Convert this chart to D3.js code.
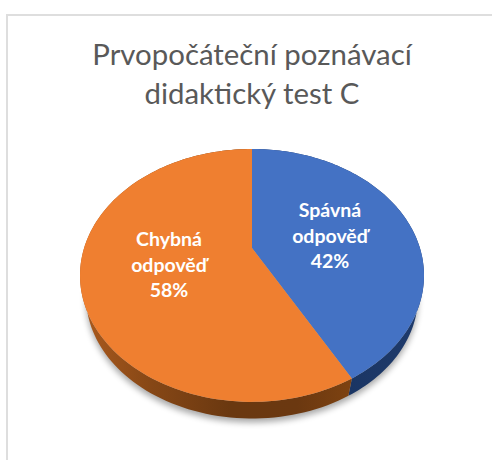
<!DOCTYPE html>
<html><head><meta charset="utf-8">
<script src="https://cdn.jsdelivr.net/npm/d3@7/dist/d3.min.js"></script>
<style>html,body{margin:0;padding:0;background:#fff}svg{display:block}</style>
</head><body><svg id="c" width="492" height="460"></svg>
<script>
const categories = ["Spávná odpověď", "Chybná odpověď"];
const values = [42, 58];
const colors = ["#4472c4", "#ef7f30"];
const titleLines = ["Prvopočáteční poznávací", "didaktický test C"];
const labelLines = [["Spávná", "odpověď", "42%"], ["Chybná", "odpověď", "58%"]];

const svg = d3.select("#c");
const cx = 252, cy = 248, persp = 0.217, ax = 167.9, ay = 120.5, depth = 22, shrink = 0.965;

function project(a, s = 1, dy = 0) {
  const u = Math.sin(a), v = -Math.cos(a), w = 1 - persp * v;
  return [cx + s * ax * u / w, cy + dy + s * ay * v / w];
}
const line = d3.line();
const arcPts = (a0, a1, s, dy) => d3.range(0, 121).map(i => project(a0 + (a1 - a0) * i / 120, s, dy));

const defs = svg.append("defs");
const blur = defs.append("filter").attr("id", "sh").attr("x", "-20%").attr("y", "-20%").attr("width", "140%").attr("height", "140%");
blur.append("feGaussianBlur").attr("stdDeviation", 3);
const gO = defs.append("linearGradient").attr("id", "gO").attr("gradientUnits", "userSpaceOnUse")
  .attr("x1", 85).attr("x2", 350).attr("y1", 0).attr("y2", 0);
[[0, "#a9591d"], [0.25, "#864716"], [0.55, "#6a3810"], [0.8, "#6b3810"], [1, "#7d4211"]]
  .forEach(d => gO.append("stop").attr("offset", d[0]).attr("stop-color", d[1]));
const gB = defs.append("linearGradient").attr("id", "gB").attr("gradientUnits", "userSpaceOnUse")
  .attr("x1", 345).attr("x2", 425).attr("y1", 0).attr("y2", 0);
[[0, "#1a3563"], [1, "#1f3b6c"]].forEach(d => gB.append("stop").attr("offset", d[0]).attr("stop-color", d[1]));

// chart frame
svg.append("path").attr("d", "M7 460V15H492").attr("fill", "none").attr("stroke", "#dedede").attr("stroke-width", 2);

const slices = d3.pie().sort(null).value(d => d)(values);

// soft shadow
svg.append("path").attr("d", line(arcPts(0, 2 * Math.PI, shrink, depth + 4)) + "Z")
  .attr("fill", "#000").attr("opacity", 0.34).attr("filter", "url(#sh)");

// side wall
const sideFill = ["url(#gB)", "url(#gO)"];
slices.forEach((s, i) => {
  const pts = arcPts(s.startAngle, s.endAngle, 1, 0);
  const low = arcPts(s.startAngle, s.endAngle, shrink, depth).reverse();
  svg.append("path").attr("d", line(pts.concat(low)) + "Z").attr("fill", sideFill[i]);
});
// top face
slices.forEach((s, i) => {
  svg.append("path").attr("d", line([[cx, cy]].concat(arcPts(s.startAngle, s.endAngle, 1, 0))) + "Z")
    .attr("fill", colors[i]);
});

// title
const font = "Lato, Carlito, Calibri, sans-serif";
const titleY = [65, 104];
titleLines.forEach((t, i) => svg.append("text").text(t)
  .attr("x", 252).attr("y", titleY[i]).attr("text-anchor", "middle")
  .attr("font-family", font).attr("font-size", 29.4).attr("fill", "#595959"));

// data labels
const labelX = [330, 169], labelY = [[217, 243, 268], [246, 272, 297]];
labelLines.forEach((ls, i) => ls.forEach((t, j) => svg.append("text").text(t)
  .attr("x", labelX[i]).attr("y", labelY[i][j]).attr("text-anchor", "middle")
  .attr("font-family", font).attr("font-weight", 700).attr("font-size", 19.5).attr("fill", "#fff")));
</script></body></html>
